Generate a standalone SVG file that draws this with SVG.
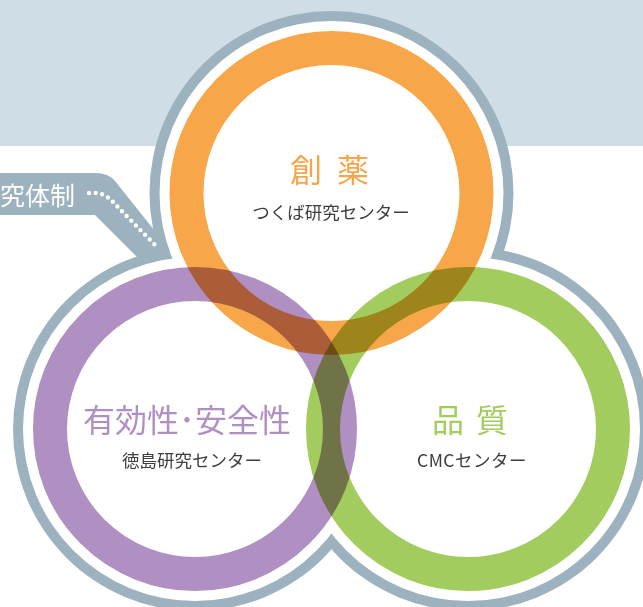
<svg xmlns="http://www.w3.org/2000/svg" width="643" height="607" viewBox="0 0 643 607">
  <style>
    .ring { fill: none; stroke-width: 34; mix-blend-mode: multiply; }
    .outline { fill: #9db2bf; }
    .inner { fill: #ffffff; }
    .title { font-family: "Noto Sans CJK JP", "Noto Sans", sans-serif; font-size: 32px; text-anchor: middle; }
    .sub { font-family: "Noto Sans CJK JP", "Noto Sans", sans-serif; font-size: 17.5px; fill: #3d3d3d; text-anchor: middle; }
  </style>
  <rect x="0" y="0" width="643" height="146" fill="#cfdee6"/>
  <g id="connectors">
    <path d="M0,173 H96 Q108,173 115,181 L170,250 L142,262 L95,215 H0 Z" fill="#9db2bf"/>
  </g>
  <g id="outline">
    <circle class="outline" cx="331.5" cy="193" r="182"/>
    <circle class="outline" cx="195" cy="429" r="182"/>
    <circle class="outline" cx="468" cy="429" r="182"/>
    <circle class="inner" cx="331.5" cy="193" r="172"/>
    <circle class="inner" cx="195" cy="429" r="172"/>
    <circle class="inner" cx="468" cy="429" r="172"/>
  </g>
  <g id="connector-dots">
    <path d="M89,193 C100,192 106,195 112,201 L158,248" fill="none" stroke="#ffffff" stroke-width="4.4" stroke-linecap="round" stroke-dasharray="0 6.6"/>
  </g>
  <g id="node-system">
    <text x="75" y="205" font-family="'Noto Sans CJK JP', 'Noto Sans', sans-serif" font-size="25" fill="#ffffff" text-anchor="end">究体制</text>
  </g>
  <g id="node-safety">
    <circle class="ring" cx="195" cy="429" r="145" stroke="#b08fc2"/>
    <text class="title" x="187" y="432" fill="#b08fc2">有効性･安全性</text>
    <text class="sub" x="192" y="467">徳島研究センター</text>
  </g>
  <g id="node-quality">
    <circle class="ring" cx="468" cy="429" r="145" stroke="#a2cd5e"/>
    <text class="title" y="432" fill="#a2cd5e"><tspan x="448">品</tspan><tspan x="492">質</tspan></text>
    <text class="sub" x="472" y="467" letter-spacing="0.5">CMCセンター</text>
  </g>
  <g id="node-drug">
    <circle class="ring" cx="331.5" cy="193" r="145" stroke="#f8a64a"/>
    <text class="title" y="182" fill="#f7a54a"><tspan x="306">創</tspan><tspan x="353">薬</tspan></text>
    <text class="sub" x="331" y="219">つくば研究センター</text>
  </g>
</svg>
